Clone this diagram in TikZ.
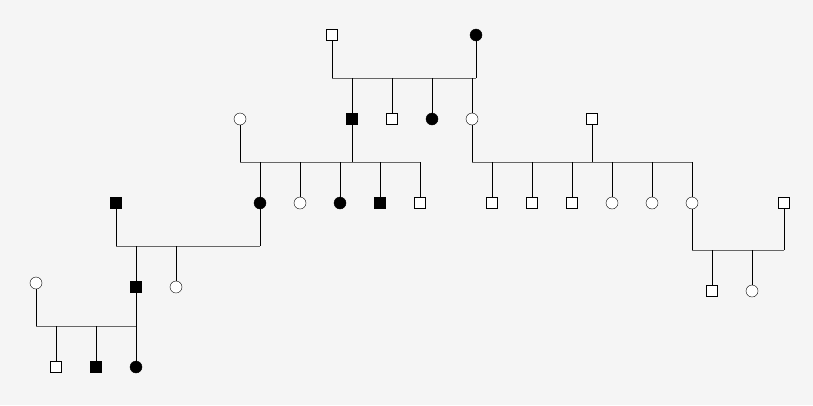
\documentclass[tikz,border=0pt]{standalone}
\usetikzlibrary{positioning}
\tikzset{
  male/.style={draw, rectangle, minimum size=11pt, inner sep=0pt, fill=white},
  female/.style={draw, circle, minimum size=12pt, inner sep=0pt, fill=white},
  hit/.style={fill=black},
  vline/.style={black, line width=0.9pt},
  hline/.style={gray!80!black, line width=0.9pt}
}
\begin{document}
\begin{tikzpicture}[x=1pt, y=-1pt]
  \fill[black!4] (0,0) rectangle (813,405);
  \useasboundingbox (0,0) rectangle (813,405);

  % couple lines
  \coordinate (mA) at (0,78);
  \coordinate (mB) at (0,162);
  \coordinate (mC) at (0,162);
  \coordinate (mD) at (0,250);
  \coordinate (mE) at (0,246);
  \coordinate (mF) at (0,326);

  % generation one
  \node[male] (gp1) at (332,35) {};
  \node[female, hit] (gp2) at (476,35) {};

  % generation two
  \node[male, hit] (p1) at (352,119) {};
  \node[male] (p2) at (392,119) {};
  \node[female, hit] (p3) at (432,119) {};
  \node[female] (p4) at (472,119) {};
  \node[female] (s1) at (240,119) {};
  \node[male] (s2) at (592,119) {};

  % generation three
  \node[female, hit] (c1) at (260,203) {};
  \node[female] (c2) at (300,203) {};
  \node[female, hit] (c3) at (340,203) {};
  \node[male, hit] (c4) at (380,203) {};
  \node[male] (c5) at (420,203) {};
  \node[male] (d1) at (492,203) {};
  \node[male] (d2) at (532,203) {};
  \node[male] (d3) at (572,203) {};
  \node[female] (d4) at (612,203) {};
  \node[female] (d5) at (652,203) {};
  \node[female] (d6) at (692,203) {};
  \node[male] (s3) at (784,203) {};
  \node[male, hit] (s4) at (116,203) {};

  % generation four
  \node[male] (e1) at (712,291) {};
  \node[female] (e2) at (752,291) {};
  \node[male, hit] (f1) at (136,287) {};
  \node[female] (f2) at (176,287) {};
  \node[female] (s5) at (36,283) {};

  % generation five
  \node[male] (g1) at (56,367) {};
  \node[male, hit] (g2) at (96,367) {};
  \node[female, hit] (g3) at (136,367) {};

  % marriages
  \draw[hline] (gp1 |- mA) -- (gp2 |- mA);
  \draw[hline] (s1 |- mB) -- (c5 |- mB);
  \draw[hline] (p4 |- mC) -- (d6 |- mC);
  \draw[hline] (d6 |- mD) -- (s3 |- mD);
  \draw[hline] (s4 |- mE) -- (c1 |- mE);
  \draw[hline] (s5 |- mF) -- (f1 |- mF);

  % parents down to line
  \foreach \n/\m in {gp1/mA, gp2/mA, s1/mB, p1/mB, p4/mC, s2/mC,
                     d6/mD, s3/mD, s4/mE, c1/mE, s5/mF, f1/mF}
    \draw[vline] (\n.south) -- (\n |- \m);

  % children up to line
  \foreach \n/\m in {p1/mA, p2/mA, p3/mA, p4/mA,
                     c1/mB, c2/mB, c3/mB, c4/mB, c5/mB,
                     d1/mC, d2/mC, d3/mC, d4/mC, d5/mC, d6/mC,
                     e1/mD, e2/mD, f1/mE, f2/mE,
                     g1/mF, g2/mF, g3/mF}
    \draw[vline] (\n.north) -- (\n |- \m);
\end{tikzpicture}
\end{document}
